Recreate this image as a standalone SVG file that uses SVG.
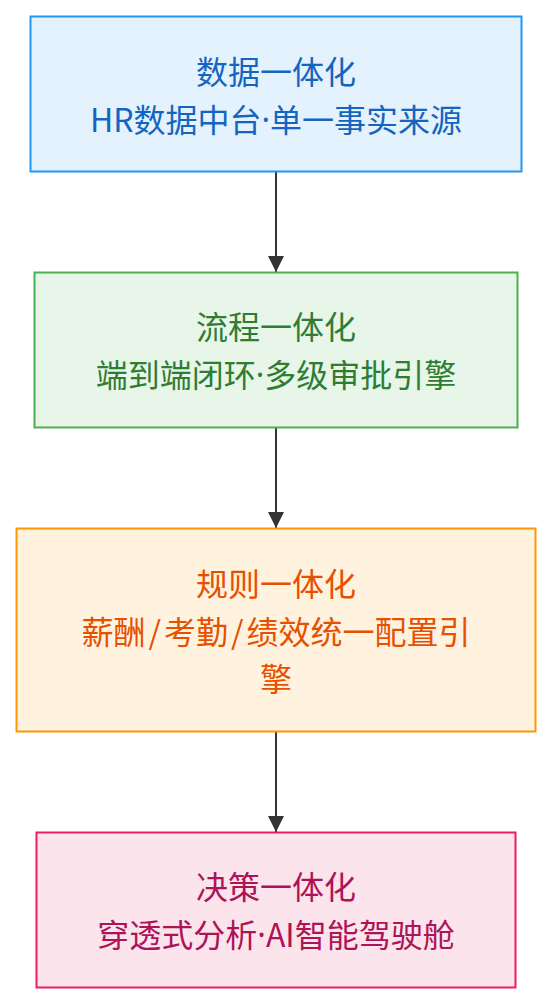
<svg xmlns="http://www.w3.org/2000/svg" width="552" height="1004" viewBox="0 0 552 1004">
<style>
.box{stroke-width:2}
.t{font-family:"Noto Sans CJK SC","Noto Sans",sans-serif;font-size:32px;text-anchor:middle;dominant-baseline:central}
.d{font-family:"Noto Sans","DejaVu Sans",sans-serif}
.edge{stroke:#333;stroke-width:2;fill:none}
</style>
<defs>
<marker id="arr" viewBox="0 0 16 16" refX="16" refY="8" markerWidth="16" markerHeight="16" markerUnits="userSpaceOnUse" orient="auto">
<path d="M0,0 L16,8 L0,16 Z" fill="#333"/>
</marker>
</defs>
<rect width="552" height="1004" fill="#fff"/>
<g id="connectors">
<line class="edge" x1="276" y1="172" x2="276" y2="272" marker-end="url(#arr)"/>
<line class="edge" x1="276" y1="428" x2="276" y2="528" marker-end="url(#arr)"/>
<line class="edge" x1="276" y1="732" x2="276" y2="832" marker-end="url(#arr)"/>
</g>
<g id="n1">
<rect class="box" x="30.5" y="16.5" width="491" height="155" fill="#E3F2FD" stroke="#2196F3"/>
<text class="t" x="276" y="70" fill="#1565C0">数据一体化</text>
<text class="t" x="276" y="118" fill="#1565C0">HR数据中台<tspan class="d">·</tspan>单一事实来源</text>
</g>
<g id="n2">
<rect class="box" x="34.5" y="272.5" width="483" height="155" fill="#E8F5E9" stroke="#4CAF50"/>
<text class="t" x="276" y="325" fill="#2E7D32">流程一体化</text>
<text class="t" x="276" y="373" fill="#2E7D32">端到端闭环<tspan class="d">·</tspan>多级审批引擎</text>
</g>
<g id="n3">
<rect class="box" x="16.5" y="528.5" width="519" height="203" fill="#FFF3E0" stroke="#FF9800"/>
<text class="t" x="276" y="582" fill="#E65100">规则一体化</text>
<text class="t" x="276" y="630" fill="#E65100">薪酬<tspan dx="3">/</tspan><tspan dx="3">考勤</tspan><tspan dx="3">/</tspan><tspan dx="3">绩效统一配置引</tspan></text>
<text class="t" x="276" y="677" fill="#E65100">擎</text>
</g>
<g id="n4">
<rect class="box" x="36.5" y="832.5" width="479" height="155" fill="#FCE4EC" stroke="#E91E63"/>
<text class="t" x="276" y="885" fill="#AD1457">决策一体化</text>
<text class="t" x="276" y="933" fill="#AD1457">穿透式分析<tspan class="d">·</tspan>AI智能驾驶舱</text>
</g>
</svg>
